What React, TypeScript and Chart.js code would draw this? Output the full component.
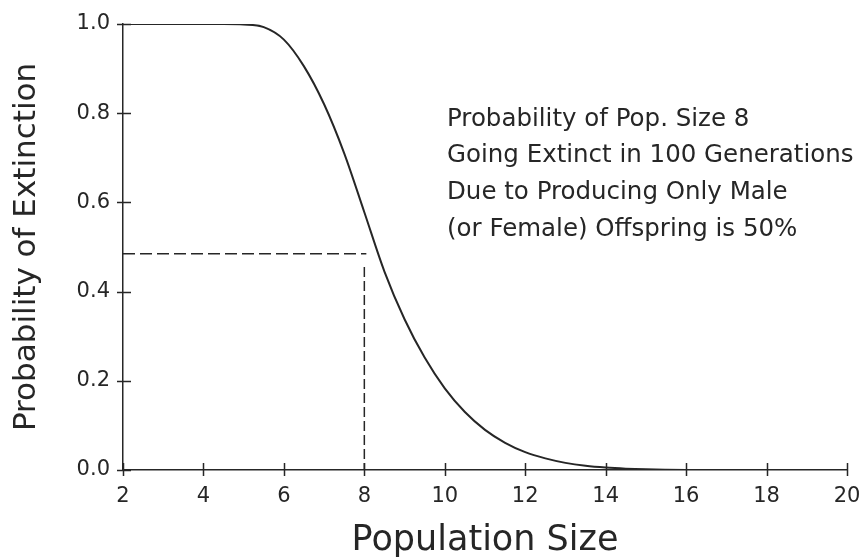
import React, { useEffect, useRef } from "react";
import { Chart, registerables } from "chart.js";

Chart.register(...registerables);

// ---- data ----
const popSize = [
  2, 2.5, 3, 3.5, 4, 4.5, 5, 5.5, 6, 6.5, 7, 7.5, 8, 8.5, 9, 9.5, 10, 10.5, 11,
  11.5, 12, 12.5, 13, 13.5, 14, 14.5, 15, 15.5, 16, 16.5, 17, 17.5, 18, 18.5,
  19, 19.5, 20,
];
const extinctionProb = [
  1, 1, 1, 1, 1, 1, 0.999, 0.993, 0.965, 0.905, 0.82, 0.71, 0.578, 0.445, 0.338,
  0.252, 0.183, 0.13, 0.09, 0.061, 0.04, 0.026, 0.016, 0.0095, 0.0055, 0.003,
  0.0015, 0.0007, 0.0002, 0, 0, 0, 0, 0, 0, 0, 0,
];
const xTickValues = [2, 4, 6, 8, 10, 12, 14, 16, 18, 20];
const yTickValues = [0, 0.2, 0.4, 0.6, 0.8, 1.0];
const guideLevel = 0.485;
const guideX = [2, 8.05];
const guideVertX = 8;
const guideVertY = [0.455, 0];
const noteLines = [
  "Probability of Pop. Size 8",
  "Going Extinct in 100 Generations",
  "Due to Producing Only Male",
  "(or Female) Offspring is 50%",
];
const xTitle = "Population Size";
const yTitle = "Probability of Extinction";

const INK = "#262626";
const FONT = "'DejaVu Sans', sans-serif";

const crossTicks = {
  id: "crossTicks",
  afterDraw(chart: any) {
    const { ctx, chartArea } = chart;
    const x = chart.scales.x;
    const y = chart.scales.y;
    ctx.save();
    ctx.strokeStyle = INK;
    ctx.lineWidth = 1.5;
    ctx.beginPath();
    for (const v of yTickValues) {
      const py = Math.round(y.getPixelForValue(v)) + 0.5;
      ctx.moveTo(chartArea.left - 6, py);
      ctx.lineTo(chartArea.left + 8, py);
    }
    for (const v of xTickValues) {
      const px = Math.round(x.getPixelForValue(v)) + 0.5;
      ctx.moveTo(px, chartArea.bottom - 7);
      ctx.lineTo(px, chartArea.bottom + 6);
    }
    ctx.stroke();
    ctx.restore();
  },
};

const noteText = {
  id: "noteText",
  afterDraw(chart: any) {
    const { ctx } = chart;
    ctx.save();
    ctx.fillStyle = INK;
    ctx.font = `24.5px ${FONT}`;
    ctx.textAlign = "left";
    ctx.textBaseline = "alphabetic";
    const baselines = [126, 162, 199, 236];
    noteLines.forEach((t, i) => ctx.fillText(t, 447, baselines[i]));
    ctx.restore();
  },
};

export default function App() {
  const ref = useRef<HTMLCanvasElement>(null);
  useEffect(() => {
    const chart = new Chart(ref.current as HTMLCanvasElement, {
      type: "line",
      data: {
        datasets: [
          {
            data: popSize.map((p, i) => ({ x: p, y: extinctionProb[i] })),
            borderColor: INK,
            borderWidth: 2,
            pointRadius: 0,
            cubicInterpolationMode: "monotone",
            fill: false,
          },
          {
            data: guideX.map((p) => ({ x: p, y: guideLevel })),
            borderColor: INK,
            borderWidth: 1.5,
            borderDash: [12, 5],
            pointRadius: 0,
            fill: false,
          },
          {
            data: guideVertY.map((v) => ({ x: guideVertX, y: v })),
            borderColor: INK,
            borderWidth: 1.5,
            borderDash: [10, 4],
            pointRadius: 0,
            fill: false,
          },
        ],
      },
      options: {
        animation: false,
        responsive: false,
        events: [],
        layout: { padding: { top: 24, right: 19, left: 0, bottom: 0 } },
        plugins: {
          legend: { display: false },
          tooltip: { enabled: false },
        },
        scales: {
          x: {
            type: "linear",
            min: 2,
            max: 20,
            afterFit: (s: any) => {
              s.height = 89;
              s.paddingLeft = 0;
              s.paddingRight = 0;
            },
            afterBuildTicks: (s: any) => {
              s.ticks = xTickValues.map((v) => ({ value: v }));
            },
            grid: { display: false, drawTicks: false },
            border: { display: true, color: INK, width: 1.5 },
            ticks: {
              color: INK,
              padding: 14,
              font: { family: FONT, size: 21 },
              maxRotation: 0,
              callback: (v: any) => String(v),
            },
            title: {
              display: true,
              text: xTitle,
              color: INK,
              font: { family: FONT, size: 35, lineHeight: 1.0 },
              padding: { top: 0, bottom: 1 },
            },
          },
          y: {
            type: "linear",
            min: 0,
            max: 1,
            afterFit: (s: any) => {
              s.width = 123;
              s.paddingTop = 0;
              s.paddingBottom = 0;
            },
            afterBuildTicks: (s: any) => {
              s.ticks = yTickValues.map((v) => ({ value: v }));
            },
            grid: { display: false, drawTicks: false },
            border: { display: true, color: INK, width: 1.5 },
            ticks: {
              color: INK,
              padding: 13,
              font: { family: FONT, size: 21 },
              callback: (v: any) => Number(v).toFixed(1),
            },
            title: {
              display: true,
              text: yTitle,
              color: INK,
              font: { family: FONT, size: 31, lineHeight: 1.1 },
              padding: { top: 10, bottom: 0 },
            },
          },
        },
      },
      plugins: [crossTicks, noteText],
    } as any);
    return () => chart.destroy();
  }, []);
  return (
    <div
      style={{
        position: "absolute",
        left: 0,
        top: 0,
        width: 866,
        height: 559,
        background: "#fff",
      }}
    >
      <canvas
        ref={ref}
        width={866}
        height={559}
        style={{ display: "block", width: 866, height: 559 }}
      />
    </div>
  );
}
